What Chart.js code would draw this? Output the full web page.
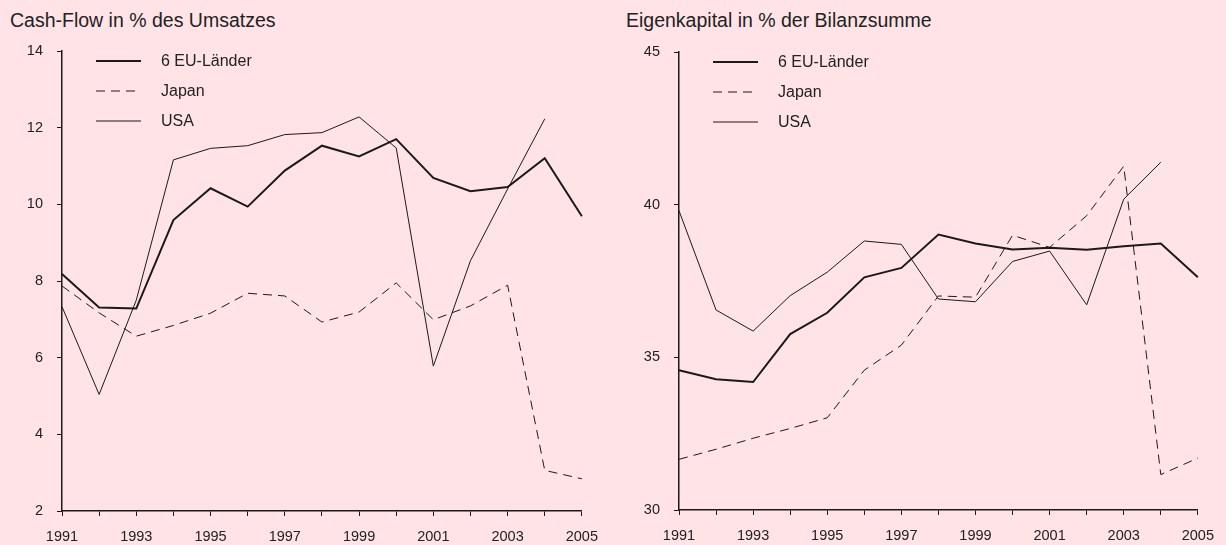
<!DOCTYPE html>
<html>
<head>
<meta charset="utf-8">
<script src="https://cdn.jsdelivr.net/npm/chart.js@4"></script>
<style>
  body { margin: 0; background: #ffe3e6; width: 1226px; height: 545px; overflow: hidden; position: relative; font-family: "Liberation Sans", sans-serif; }
  canvas { position: absolute; top: 0; }
  .title { position: absolute; top: 11px; font-size: 19.5px; line-height: 19px; color: #222; white-space: nowrap; }
</style>
</head>
<body>
<div class="title" style="left:10px">Cash-Flow in % des Umsatzes</div>
<div class="title" style="left:626px">Eigenkapital in % der Bilanzsumme</div>
<canvas id="cash" width="610" height="545" style="left:0"></canvas>
<canvas id="equity" width="616" height="545" style="left:610px"></canvas>
<script>
const years = ['1991', '1992', '1993', '1994', '1995', '1996', '1997', '1998',
               '1999', '2000', '2001', '2002', '2003', '2004', '2005'];
const seriesNames = ['6 EU-Länder', 'Japan', 'USA'];

// Cash-Flow in % des Umsatzes
const cashEU = [8.18, 7.31, 7.28, 9.59, 10.42, 9.94, 10.88, 11.53, 11.25, 11.70, 10.69, 10.34, 10.45, 11.20, 9.69];
const cashJapan = [7.87, 7.17, 6.56, 6.84, 7.16, 7.68, 7.61, 6.93, 7.19, 7.95, 6.99, 7.35, 7.89, 3.06, 2.84];
const cashUSA = [7.33, 5.04, 7.5, 11.16, 11.46, 11.53, 11.82, 11.87, 12.28, 11.47, 5.78, 8.53, 10.4, 12.23, null];
const cashTicks = [2, 4, 6, 8, 10, 12, 14];

// Eigenkapital in % der Bilanzsumme
const equityEU = [34.58, 34.28, 34.19, 35.76, 36.46, 37.62, 37.93, 39.02, 38.73, 38.53, 38.59, 38.52, 38.64, 38.73, 37.62];
const equityJapan = [31.66, 31.99, 32.35, 32.67, 33.02, 34.58, 35.40, 37.01, 36.97, 39.0, 38.6, 39.64, 41.26, 31.16, 31.70];
const equityUSA = [39.80, 36.55, 35.86, 37.02, 37.79, 38.81, 38.70, 36.91, 36.82, 38.14, 38.48, 36.72, 40.18, 41.39, null];
const equityTicks = [30, 35, 40, 45];

const ink = '#1a1a1a';
const textColor = '#222';
const fontFamily = '"Liberation Sans", sans-serif';

// legend drawn inside the plot, lines stacked vertically
const innerLegend = {
    id: 'innerLegend',
    afterDraw(chart) {
        const ctx = chart.ctx;
        const area = chart.chartArea;
        ctx.save();
        chart.data.datasets.forEach(function(ds, i) {
            const y = area.top + 10 + i * 30;
            const x0 = area.left + 34;
            ctx.beginPath();
            ctx.strokeStyle = ds.borderColor;
            ctx.lineWidth = ds.borderWidth;
            ctx.setLineDash(ds.borderDash || []);
            ctx.moveTo(x0, y);
            ctx.lineTo(x0 + 45, y);
            ctx.stroke();
            ctx.setLineDash([]);
            ctx.fillStyle = textColor;
            ctx.font = '16px ' + fontFamily;
            ctx.textBaseline = 'middle';
            ctx.fillText(ds.label, x0 + 65, y + 1);
        });
        ctx.restore();
    }
};

function makeChart(id, eu, jp, us, ticks, axisLeft, axisBottom, padRight, padTop) {
    const canvas = document.getElementById(id);
    return new Chart(canvas.getContext('2d'), {
        type: 'line',
        data: {
            labels: years,
            datasets: [
                { label: seriesNames[0], data: eu, borderColor: ink, borderWidth: 2, pointRadius: 0, tension: 0 },
                { label: seriesNames[1], data: jp, borderColor: ink, borderWidth: 1, borderDash: [9, 6], pointRadius: 0, tension: 0 },
                { label: seriesNames[2], data: us, borderColor: ink, borderWidth: 1, pointRadius: 0, tension: 0 }
            ]
        },
        options: {
            responsive: false,
            animation: false,
            layout: { padding: { left: 0, right: padRight, top: padTop, bottom: 0 } },
            plugins: { legend: { display: false }, tooltip: { enabled: false } },
            scales: {
                x: {
                    offset: false,
                    grid: { display: true, drawOnChartArea: false, drawTicks: true, tickLength: 5, color: ink },
                    border: { color: ink, width: 1.5 },
                    ticks: {
                        autoSkip: false, maxRotation: 0, padding: 12, color: textColor,
                        font: { family: fontFamily, size: 14.5 },
                        callback: function(v, i) { return i % 2 === 0 ? years[i] : ''; }
                    },
                    afterFit: function(scale) { scale.height = canvas.height - axisBottom; }
                },
                y: {
                    min: ticks[0],
                    max: ticks[ticks.length - 1],
                    afterBuildTicks: function(scale) { scale.ticks = ticks.map(function(t) { return { value: t }; }); },
                    grid: { display: true, drawOnChartArea: false, drawTicks: true, tickLength: 5, color: ink },
                    border: { color: ink, width: 1.5 },
                    ticks: { padding: 14, color: textColor, font: { family: fontFamily, size: 14.5 } },
                    afterFit: function(scale) { scale.width = axisLeft; }
                }
            }
        },
        plugins: [innerLegend]
    });
}

makeChart('cash', cashEU, cashJapan, cashUSA, cashTicks, 62, 511, 26, 51);
makeChart('equity', equityEU, equityJapan, equityUSA, equityTicks, 69, 510, 24, 52);
</script>
</body>
</html>
